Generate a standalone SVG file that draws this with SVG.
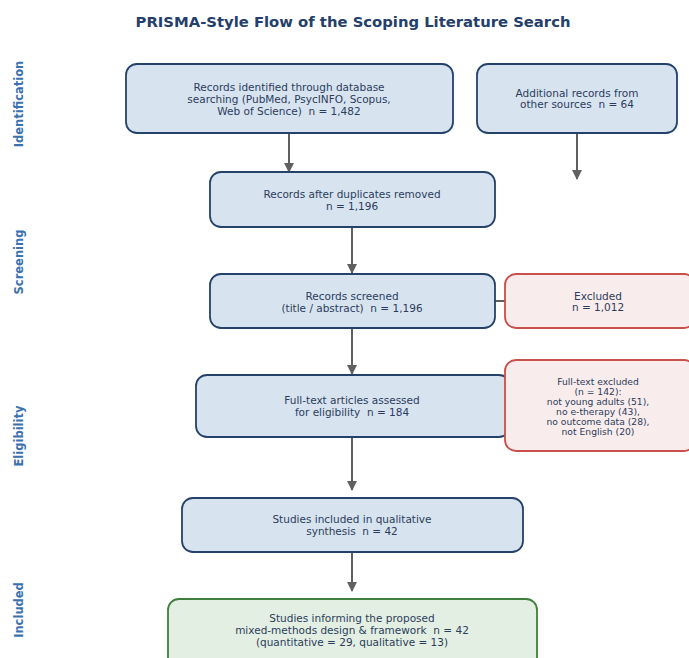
<svg xmlns="http://www.w3.org/2000/svg" width="689" height="658" viewBox="0 0 689 658">
<style>
text{font-family:"DejaVu Sans",sans-serif;fill:#2b3d5c;text-anchor:middle;white-space:pre}
.t{font-size:10.5px}
.s{font-size:9.2px}
.blue{fill:#d8e3f0;stroke:#24426a;stroke-width:1.8}
.red{fill:#f9ecec;stroke:#c9504c;stroke-width:1.8}
.green{fill:#e4efe3;stroke:#3f7f3c;stroke-width:1.8}
.side{font-size:11.5px;font-weight:bold;fill:#3a72b0}
.c{stroke:#606060;stroke-width:2;fill:none}
</style>
<defs>
<marker id="ah" viewBox="0 0 10 10" refX="9" refY="5" markerWidth="5" markerHeight="5" orient="auto" markerUnits="strokeWidth">
<path d="M0,0 L10,5 L0,10 z" fill="#606060"/>
</marker>
</defs>
<rect width="689" height="658" fill="#ffffff"/>
<text x="353" y="27" style="font-size:14.8px;font-weight:bold;fill:#24406a">PRISMA-Style Flow of the Scoping Literature Search</text>
<g id="side-labels">
<text class="side" transform="translate(23,104) rotate(-90)">Identification</text>
<text class="side" transform="translate(23,262) rotate(-90)">Screening</text>
<text class="side" transform="translate(23,436) rotate(-90)">Eligibility</text>
<text class="side" transform="translate(23,610) rotate(-90)">Included</text>
</g>
<g id="connectors">
<line class="c" x1="289" y1="133" x2="289" y2="172" marker-end="url(#ah)"/>
<line class="c" x1="577" y1="133" x2="577" y2="179" marker-end="url(#ah)"/>
<line class="c" x1="352" y1="227" x2="352" y2="273" marker-end="url(#ah)"/>
<line class="c" x1="352" y1="328" x2="352" y2="374" marker-end="url(#ah)"/>
<line class="c" x1="352" y1="437" x2="352" y2="490" marker-end="url(#ah)"/>
<line class="c" x1="352" y1="552" x2="352" y2="591" marker-end="url(#ah)"/>
<line class="c" x1="495" y1="301" x2="505" y2="301"/>
</g>
<g id="n-identified">
<rect class="blue" x="126" y="64" width="327" height="69" rx="11"/>
<text class="t" x="289" y="91">Records identified through database</text>
<text class="t" x="289" y="103">searching (PubMed, PsycINFO, Scopus,</text>
<text class="t" x="289" y="115">Web of Science)  n = 1,482</text>
</g>
<g id="n-additional">
<rect class="blue" x="477" y="64" width="200" height="69" rx="11"/>
<text class="t" x="577" y="97">Additional records from</text>
<text class="t" x="577" y="108">other sources  n = 64</text>
</g>
<g id="n-duplicates">
<rect class="blue" x="210" y="172" width="285" height="55" rx="11"/>
<text class="t" x="352" y="198">Records after duplicates removed</text>
<text class="t" x="352" y="210">n = 1,196</text>
</g>
<g id="n-screened">
<rect class="blue" x="210" y="274" width="285" height="54" rx="11"/>
<text class="t" x="352" y="300">Records screened</text>
<text class="t" x="352" y="312">(title / abstract)  n = 1,196</text>
</g>
<g id="n-excluded">
<rect class="red" x="505" y="274" width="190" height="54" rx="11"/>
<text class="t" x="598" y="300">Excluded</text>
<text class="t" x="598" y="311">n = 1,012</text>
</g>
<g id="n-fulltext">
<rect class="blue" x="196" y="375" width="314" height="62" rx="11"/>
<text class="t" x="352" y="404">Full-text articles assessed</text>
<text class="t" x="352" y="416">for eligibility  n = 184</text>
</g>
<g id="n-ft-excluded">
<rect class="red" x="505" y="360" width="190" height="91" rx="11"/>
<text class="s" x="598" y="385">Full-text excluded</text>
<text class="s" x="598" y="395">(n = 142):</text>
<text class="s" x="598" y="405">not young adults (51),</text>
<text class="s" x="598" y="415">no e-therapy (43),</text>
<text class="s" x="598" y="425">no outcome data (28),</text>
<text class="s" x="598" y="435">not English (20)</text>
</g>
<g id="n-included">
<rect class="blue" x="182" y="498" width="341" height="54" rx="11"/>
<text class="t" x="352" y="523">Studies included in qualitative</text>
<text class="t" x="352" y="535">synthesis  n = 42</text>
</g>
<g id="n-informing">
<rect class="green" x="168" y="599" width="369" height="70" rx="11"/>
<text class="t" x="352" y="622">Studies informing the proposed</text>
<text class="t" x="352" y="634">mixed-methods design &amp; framework  n = 42</text>
<text class="t" x="352" y="646">(quantitative = 29, qualitative = 13)</text>
</g>
</svg>
